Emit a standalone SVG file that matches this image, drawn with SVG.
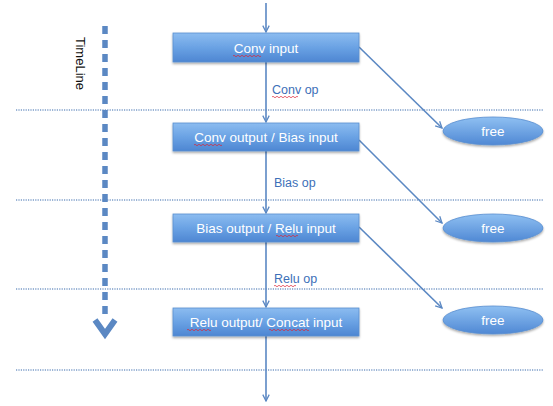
<svg xmlns="http://www.w3.org/2000/svg" width="553" height="406" viewBox="0 0 553 406">
<defs>
<linearGradient id="gb" x1="0" y1="0" x2="0" y2="1">
<stop offset="0" stop-color="#8cbcf0"/>
<stop offset="0.5" stop-color="#6aa2e4"/>
<stop offset="1" stop-color="#4d86d2"/>
</linearGradient>
<linearGradient id="ge" x1="0" y1="0" x2="0" y2="1">
<stop offset="0" stop-color="#8fc0f2"/>
<stop offset="1" stop-color="#4f88d4"/>
</linearGradient>
<filter id="sh" x="-10%" y="-20%" width="120%" height="160%">
<feDropShadow dx="0" dy="1.5" stdDeviation="1.2" flood-color="#000" flood-opacity="0.35"/>
</filter>
<marker id="ah" viewBox="0 0 10 10" refX="9" refY="5" markerWidth="8" markerHeight="8" markerUnits="userSpaceOnUse" orient="auto">
<path d="M1,1 L9,5 L1,9" fill="none" stroke="#5b88c3" stroke-width="1.6"/>
</marker>
</defs>
<style>
.box{fill:url(#gb);stroke:#5a8fd0;stroke-width:0.8;filter:url(#sh)}
.ell{fill:url(#ge);stroke:#5a8fd0;stroke-width:0.8;filter:url(#sh)}
.bt{font-family:"Liberation Sans",Arial,sans-serif;font-size:13.5px;fill:#fff;text-anchor:middle}
.lb{font-family:"Liberation Sans",Arial,sans-serif;font-size:12.5px;fill:#3d6fb8}
.conn{stroke:#5b88c3;stroke-width:1.6;fill:none}
.dot{stroke:#7b9cc8;stroke-width:1.5;stroke-dasharray:1.2 1.2;fill:none}
.sq{stroke:#d23;stroke-width:0.7;fill:none}
</style>
<g id="grid">
<line class="dot" x1="16" y1="110" x2="543" y2="110"/>
<line class="dot" x1="16" y1="200" x2="543" y2="200"/>
<line class="dot" x1="16" y1="289" x2="543" y2="289"/>
<line class="dot" x1="16" y1="370" x2="543" y2="370"/>
</g>
<g id="timeline">
<line x1="105" y1="26" x2="105" y2="320" stroke="#5b88c3" stroke-width="5.5" stroke-dasharray="8 6"/>
<path d="M95,320 L105,334 L115,320" fill="none" stroke="#5b88c3" stroke-width="6" stroke-linejoin="miter"/>
<text transform="translate(76,37) rotate(90)" font-family="Liberation Sans,Arial,sans-serif" font-size="13" fill="#111">TimeLine</text>
</g>
<g id="connectors">
<line class="conn" x1="266" y1="3" x2="266" y2="32" marker-end="url(#ah)"/>
<line class="conn" x1="266" y1="62" x2="266" y2="122" marker-end="url(#ah)"/>
<line class="conn" x1="266" y1="151" x2="266" y2="213" marker-end="url(#ah)"/>
<line class="conn" x1="266" y1="242" x2="266" y2="307" marker-end="url(#ah)"/>
<line class="conn" x1="266" y1="336" x2="266" y2="401" marker-end="url(#ah)"/>
<line class="conn" x1="359" y1="47" x2="442" y2="128" marker-end="url(#ah)"/>
<line class="conn" x1="359" y1="140" x2="442" y2="223" marker-end="url(#ah)"/>
<line class="conn" x1="359" y1="227" x2="442" y2="308" marker-end="url(#ah)"/>
<text class="lb" x="272" y="94">Conv op</text>
<text class="lb" x="274" y="187">Bias op</text>
<text class="lb" x="274" y="283">Relu op</text>
<path class="sq" d="M272,97 q1,-1.5 2,0 t2,0 t2,0 t2,0 t2,0 t2,0 t2,0 t2,0 t2,0 t2,0 t2,0 t2,0 t2,0"/>
<path class="sq" d="M274,286 q1,-1.5 2,0 t2,0 t2,0 t2,0 t2,0 t2,0 t2,0 t2,0 t2,0 t2,0 t2,0"/>
</g>
<g id="n1">
<rect class="box" x="173" y="33" width="186" height="29"/>
<text class="bt" x="266" y="53">Conv input</text>
<path class="sq" d="M233,56 q1,-1.5 2,0 t2,0 t2,0 t2,0 t2,0 t2,0 t2,0 t2,0 t2,0 t2,0 t2,0 t2,0 t2,0 t2,0"/>
</g>
<g id="n2">
<rect class="box" x="173" y="123" width="186" height="28"/>
<text class="bt" x="266" y="142">Conv output / Bias input</text>
<path class="sq" d="M194,145 q1,-1.5 2,0 t2,0 t2,0 t2,0 t2,0 t2,0 t2,0 t2,0 t2,0 t2,0 t2,0 t2,0 t2,0 t2,0"/>
</g>
<g id="n3">
<rect class="box" x="173" y="214" width="186" height="28"/>
<text class="bt" x="266" y="233">Bias output / Relu input</text>
<path class="sq" d="M276,236 q1,-1.5 2,0 t2,0 t2,0 t2,0 t2,0 t2,0 t2,0 t2,0 t2,0 t2,0 t2,0"/>
</g>
<g id="n4">
<rect class="box" x="173" y="308" width="186" height="28"/>
<text class="bt" x="266" y="327">Relu output/ Concat input</text>
<path class="sq" d="M187,330 q1,-1.5 2,0 t2,0 t2,0 t2,0 t2,0 t2,0 t2,0 t2,0 t2,0 t2,0 t2,0 t2,0"/>
<path class="sq" d="M269,330 q1,-1.5 2,0 t2,0 t2,0 t2,0 t2,0 t2,0 t2,0 t2,0 t2,0 t2,0 t2,0 t2,0 t2,0 t2,0 t2,0 t2,0 t2,0 t2,0 t2,0 t2,0"/>
</g>
<g id="f1">
<ellipse class="ell" cx="493" cy="131" rx="50" ry="14"/>
<text class="bt" x="493" y="136">free</text>
</g>
<g id="f2">
<ellipse class="ell" cx="493" cy="228" rx="50" ry="14"/>
<text class="bt" x="493" y="233">free</text>
</g>
<g id="f3">
<ellipse class="ell" cx="493" cy="320" rx="50" ry="14"/>
<text class="bt" x="493" y="325">free</text>
</g>
</svg>
